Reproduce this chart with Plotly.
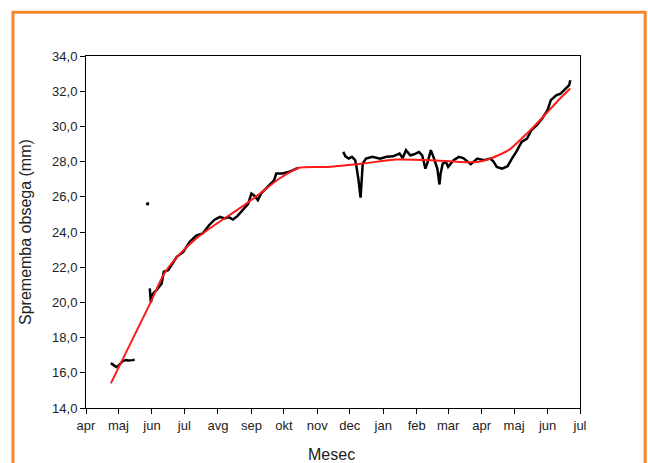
import plotly.graph_objects as go

# Measured dendrometer data (black), segments separated by None
obs_dates = [
    "2011-04-24", "2011-04-26", "2011-04-29", "2011-05-01", "2011-05-03", "2011-05-05",
    "2011-05-08", "2011-05-10", "2011-05-14", "2011-05-16", None,
    "2011-05-30", "2011-05-31", "2011-06-02", "2011-06-06", "2011-06-10", "2011-06-12",
    "2011-06-16", "2011-06-19", "2011-06-24", "2011-06-30", "2011-07-06", "2011-07-12",
    "2011-07-18", "2011-07-24", "2011-07-29", "2011-08-03", "2011-08-07", "2011-08-11",
    "2011-08-15", "2011-08-19", "2011-08-24", "2011-08-29", "2011-09-01", "2011-09-04",
    "2011-09-07", "2011-09-10", "2011-09-16", "2011-09-22", "2011-09-24", "2011-09-30",
    "2011-10-06", "2011-10-12", "2011-10-14", None,
    "2011-11-25", "2011-11-27", "2011-11-30", "2011-12-03", "2011-12-06", "2011-12-07",
    "2011-12-09", "2011-12-10", "2011-12-11", "2011-12-13", "2011-12-16", "2011-12-22",
    "2011-12-29", "2012-01-04", "2012-01-10", "2012-01-16", "2012-01-19", "2012-01-22",
    "2012-01-26", "2012-01-29", "2012-02-03", "2012-02-06", "2012-02-09", "2012-02-11",
    "2012-02-14", "2012-02-17", "2012-02-20", "2012-02-22", "2012-02-23", "2012-02-25",
    "2012-02-28", "2012-03-01", "2012-03-06", "2012-03-11", "2012-03-15", "2012-03-22",
    "2012-03-28", "2012-04-03", "2012-04-09", "2012-04-12", "2012-04-15", "2012-04-20",
    "2012-04-25", "2012-04-29", "2012-05-03", "2012-05-08", "2012-05-13", "2012-05-17",
    "2012-05-22", "2012-05-27", "2012-06-01", "2012-06-04", "2012-06-09", "2012-06-13",
    "2012-06-16", "2012-06-21", "2012-06-22",
]
obs_values = [
    16.55, 16.45, 16.33, 16.40, 16.55, 16.67,
    16.72, 16.70, 16.72, 16.74, None,
    20.80, 20.00, 20.50, 20.75, 21.08, 21.74,
    21.83, 22.12, 22.59, 22.87, 23.44, 23.80,
    23.92, 24.40, 24.70, 24.86, 24.77, 24.85,
    24.71, 24.90, 25.24, 25.60, 26.19, 26.05,
    25.81, 26.19, 26.56, 26.94, 27.32, 27.32,
    27.42, 27.60, 27.65, None,
    28.55, 28.30, 28.17, 28.27, 28.08, 27.80,
    27.00, 26.30, 25.95, 27.89, 28.17, 28.27,
    28.17, 28.27, 28.30, 28.46, 28.20, 28.65,
    28.36, 28.40, 28.55, 28.36, 27.60, 27.95,
    28.65, 28.17, 27.60, 26.70, 27.30, 27.89,
    27.98, 27.70, 28.08, 28.27, 28.20, 27.85,
    28.17, 28.08, 28.17, 28.00, 27.70, 27.60,
    27.74, 28.17, 28.55, 29.12, 29.31, 29.78,
    30.07, 30.45, 30.92, 31.49, 31.77, 31.86,
    32.05, 32.34, 32.62,
]

# Isolated outlier point
outlier_dates = ["2011-05-28"]
outlier_values = [25.6]

# Fitted curve (red)
fit_dates = [
    "2011-04-24", "2011-05-30", "2011-06-12", "2011-06-26", "2011-07-12", "2011-07-31",
    "2011-08-21", "2011-09-09", "2011-09-27", "2011-10-16", "2011-11-11", "2011-12-13",
    "2012-01-13", "2012-02-14", "2012-03-11", "2012-03-28", "2012-04-09", "2012-04-26",
    "2012-05-08", "2012-05-19", "2012-06-01", "2012-06-11", "2012-06-22",
]
fit_values = [
    15.40, 19.90, 21.60, 22.70, 23.63, 24.48,
    25.34, 26.19, 27.04, 27.66, 27.70, 27.89,
    28.12, 28.08, 27.98, 27.98, 28.17, 28.65,
    29.31, 29.97, 30.82, 31.49, 32.15,
]

tick_vals = [
    "2011-04-01", "2011-05-01", "2011-06-01", "2011-07-01", "2011-08-01", "2011-09-01",
    "2011-10-01", "2011-11-01", "2011-12-01", "2012-01-01", "2012-02-01", "2012-03-01",
    "2012-04-01", "2012-05-01", "2012-06-01", "2012-07-01",
]
tick_text = ["apr", "maj", "jun", "jul", "avg", "sep", "okt", "nov", "dec",
             "jan", "feb", "mar", "apr", "maj", "jun", "jul"]
y_ticks = [14, 16, 18, 20, 22, 24, 26, 28, 30, 32, 34]

fig = go.Figure()
fig.add_trace(go.Scatter(x=obs_dates, y=obs_values, mode="lines",
                         line=dict(color="black", width=2.5), connectgaps=False,
                         showlegend=False))
fig.add_trace(go.Scatter(x=outlier_dates, y=outlier_values, mode="markers",
                         marker=dict(color="black", size=3, symbol="square"),
                         showlegend=False))
fig.add_trace(go.Scatter(x=fit_dates, y=fit_values, mode="lines",
                         line=dict(color="#ff1a1a", width=2, shape="spline", smoothing=0.6),
                         showlegend=False))

font_family = "Liberation Sans, Arial, sans-serif"
fig.update_layout(
    width=648, height=463,
    margin=dict(l=86, r=68, t=56, b=55),
    paper_bgcolor="white", plot_bgcolor="white",
    separators=", ",
    font=dict(family=font_family, size=13, color="#222"),
    xaxis=dict(
        type="date", range=["2011-04-01", "2012-07-01"],
        tickmode="array", tickvals=tick_vals, ticktext=tick_text,
        ticks="outside", ticklen=5, tickcolor="black", tickwidth=1,
        showgrid=False, zeroline=False,
        showline=True, linecolor="black", linewidth=1, mirror=True,
        tickfont=dict(size=13, color="#222"),
    ),
    yaxis=dict(
        range=[14, 34], tickmode="array", tickvals=y_ticks, tickformat=".1f",
        ticks="outside", ticklen=5, tickcolor="black", tickwidth=1,
        showgrid=False, zeroline=False,
        showline=True, linecolor="black", linewidth=1, mirror=True,
        tickfont=dict(size=13, color="#222"),
    ),
    shapes=[dict(type="rect", xref="paper", yref="paper",
                 x0=-0.1478, x1=1.132, y0=-0.25, y1=1.124,
                 line=dict(color="#f5882a", width=3), fillcolor="rgba(0,0,0,0)",
                 layer="above")],
    annotations=[
        dict(text="Sprememba obsega (mm)", xref="paper", yref="paper",
             x=-0.1235, y=0.5, textangle=-90, showarrow=False,
             xanchor="center", yanchor="middle",
             font=dict(size=16, color="#222", family=font_family)),
        dict(text="Mesec", xref="paper", yref="paper",
             x=0.496, y=-0.133, showarrow=False,
             xanchor="center", yanchor="middle",
             font=dict(size=16, color="#222", family=font_family)),
    ],
)

fig.write_html(
    "out.html",
    config={"displayModeBar": False},
    post_script="document.body.style.margin='0';"
                "document.documentElement.style.overflow='hidden';"
                "document.body.style.overflow='hidden';",
)
